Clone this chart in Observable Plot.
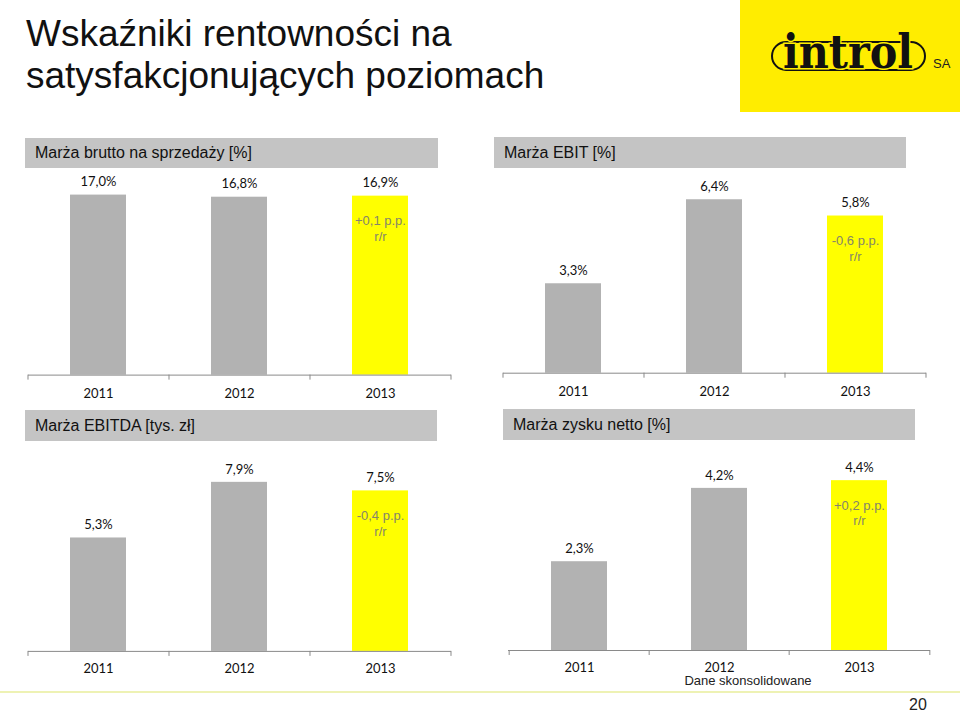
<!DOCTYPE html>
<html>
<head>
<meta charset="utf-8">
<script src="https://cdn.jsdelivr.net/npm/d3@7"></script>
<script src="https://cdn.jsdelivr.net/npm/@observablehq/plot@0.6"></script>
<style>
  html, body { margin: 0; padding: 0; background: #fff; }
  #page { position: relative; width: 960px; height: 712px; overflow: hidden; background: #fff; font-family: "Liberation Sans", Arial, sans-serif; }
  .title { position: absolute; left: 26px; top: 13px; font-size: 37px; line-height: 42px; color: #111; white-space: nowrap; }
  .hdr { position: absolute; background: #c4c4c4; color: #111; font-size: 16px; padding-left: 10px; box-sizing: border-box; white-space: nowrap; }
  .abs { position: absolute; }
</style>
</head>
<body>
<div id="page">
  <div class="title">Wskaźniki rentowności na<br>satysfakcjonujących poziomach</div>
  <svg class="abs" style="left:740px;top:0" width="220" height="112">
    <rect x="0" y="0" width="220" height="112" fill="#ffed00"></rect>
    <rect x="32" y="42" width="153" height="28" rx="14" ry="14" fill="none" stroke="#111" stroke-width="2"></rect>
    <text x="108" y="68" text-anchor="middle" font-family="DejaVu Serif" font-weight="900" font-size="47" fill="#111" stroke="#ffed00" stroke-width="3" paint-order="stroke" textLength="130" lengthAdjust="spacingAndGlyphs">introl</text>
    <text x="193" y="68" font-family="Liberation Sans, Arial" font-size="13" fill="#222">SA</text>
  </svg>
  <div class="abs" style="left:0;top:691px;width:960px;height:2px;background:#eef2b4"></div>
  <div class="abs" style="left:680px;top:673px;width:136px;text-align:center;font-size:13px;color:#222">Dane skonsolidowane</div>
  <div class="abs" style="left:900px;top:696px;width:36px;text-align:center;font-size:16px;color:#222">20</div>
</div>
<script>
// ---- data ----
const years = ["2011", "2012", "2013"];
const titles = ["Marża brutto na sprzedaży [%]", "Marża EBIT [%]", "Marża EBITDA [tys. zł]", "Marża zysku netto [%]"];
const brutto = [17.0, 16.8, 16.9];
const ebit = [3.3, 6.4, 5.8];
const ebitda = [5.3, 7.9, 7.5];
const netto = [2.3, 4.2, 4.4];
const changes = [0.1, -0.6, -0.4, 0.2]; // p.p. r/r, 2013 vs 2012

// ---- layout ----
const GRAY = "#b2b2b2", YELLOW = "#ffff00", AXIS = "#8a8a8a";
const panels = [
  {title: titles[0], values: brutto, change: changes[0], header: [25, 138, 413, 30], axis: [28, 451, 375], ppu: 10.59, ymax: 18, pad: 14},
  {title: titles[1], values: ebit,   change: changes[1], header: [494, 137, 412, 31], axis: [503, 926, 373], ppu: 27.1, ymax: 7, pad: 14},
  {title: titles[2], values: ebitda, change: changes[2], header: [25, 410, 412, 31], axis: [28, 451, 651], ppu: 21.4, ymax: 8.5, pad: 12},
  {title: titles[3], values: netto,  change: changes[3], header: [503, 409, 412, 31], axis: [508, 930, 650], ppu: 38.6, ymax: 5, pad: 12}
];

const fmtPct = v => v.toFixed(1).replace(".", ",") + "%";
const fmtChange = c => (c > 0 ? "+" : "-") + Math.abs(c).toFixed(1).replace(".", ",") + " p.p.\nr/r";

const page = document.getElementById("page");
const mL = 2, mR = 2, mT = 30, mB = 34;

for (const p of panels) {
  const hd = document.createElement("div");
  hd.className = "hdr";
  const [hx, hy, hw, hh] = p.header;
  Object.assign(hd.style, {left: hx + "px", top: hy + "px", width: hw + "px", height: hh + "px", lineHeight: hh + "px"});
  hd.textContent = p.title;
  page.appendChild(hd);

  const data = years.map((year, i) => ({year, value: p.values[i]}));
  const [x0, x1, axisY] = p.axis;
  const W = x1 - x0;
  const H = p.ymax * p.ppu;
  const step = W / years.length;
  const tickLen = 5 / p.ppu;

  const chart = Plot.plot({
    width: W + mL + mR,
    height: H + mT + mB,
    marginLeft: mL, marginRight: mR, marginTop: mT, marginBottom: mB,
    x: {domain: years, paddingInner: 0.6, paddingOuter: 0.3, label: null, tickSize: 0, tickPadding: p.pad},
    y: {domain: [0, p.ymax], axis: null},
    color: {domain: years, range: [GRAY, GRAY, YELLOW]},
    style: {fontFamily: "Lato, 'Open Sans', sans-serif", fontSize: "13px", color: "#111", background: "transparent", overflow: "visible"},
    marks: [
      Plot.barY(data, {x: "year", y: "value", fill: "year"}),
      Plot.ruleY([0], {stroke: AXIS, strokeWidth: 1}),
      Plot.ruleX(years, {x: d => d, y1: 0, y2: -tickLen, dx: -step / 2, stroke: AXIS}),
      Plot.ruleX([years[years.length - 1]], {x: d => d, y1: 0, y2: -tickLen, dx: step / 2, stroke: AXIS}),
      Plot.text(data, {x: "year", y: "value", text: d => fmtPct(d.value), dy: -13, fontFamily: "Lato, sans-serif", fontSize: 13, fill: "#111"}),
      Plot.text([data[data.length - 1]], {x: "year", y: "value", text: () => fmtChange(p.change), lineAnchor: "top", dy: 18, lineHeight: 1.2, fontFamily: "'Liberation Sans', Arial, sans-serif", fontSize: 13, fill: "#85856a"})
    ]
  });
  chart.style.position = "absolute";
  chart.style.left = (x0 - mL) + "px";
  chart.style.top = (axisY - H - mT) + "px";
  page.appendChild(chart);
}
</script>
</body>
</html>
